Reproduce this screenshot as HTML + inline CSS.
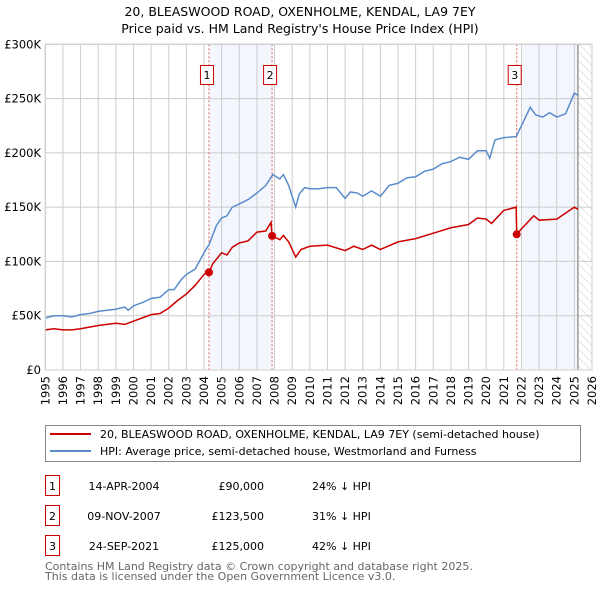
<!DOCTYPE html>
<html><head><meta charset="utf-8"><style>
body{margin:0;background:#fff}
svg{display:block;font-family:"DejaVu Sans","Liberation Sans",sans-serif}
</style></head><body>
<svg id="chart" width="600" height="590" viewBox="0 0 600 590">
<defs><pattern id="hatch" width="6" height="6" patternUnits="userSpaceOnUse" patternTransform="rotate(-45)"><line x1="0" y1="0" x2="0" y2="6" stroke="#ccc" stroke-width="1"/></pattern></defs>
<text x="300" y="16" text-anchor="middle" font-size="12.5">20, BLEASWOOD ROAD, OXENHOLME, KENDAL, LA9 7EY</text>
<text x="300" y="33" text-anchor="middle" font-size="12.5">Price paid vs. HM Land Registry's House Price Index (HPI)</text>
<g id="plot"></g>
<g>
<rect x="45.5" y="425.5" width="535" height="36" fill="#fff" stroke="#888"/>
<line x1="50" y1="434" x2="91" y2="434" stroke="#cc0000" stroke-width="2"/>
<text x="100" y="438" font-size="11">20, BLEASWOOD ROAD, OXENHOLME, KENDAL, LA9 7EY (semi-detached house)</text>
<line x1="50" y1="451" x2="91" y2="451" stroke="#5b8ccc" stroke-width="2"/>
<text x="100" y="455" font-size="11">HPI: Average price, semi-detached house, Westmorland and Furness</text>
</g>
<g font-size="11">
<g><rect x="45.5" y="475.5" width="14" height="20" fill="#fff" stroke="#cc0000"/><text x="52.5" y="490" text-anchor="middle">1</text><text x="124" y="490" text-anchor="middle">14-APR-2004</text><text x="264" y="490" text-anchor="end">£90,000</text><text x="312" y="490">24% ↓ HPI</text></g>
<g><rect x="45.5" y="505.5" width="14" height="20" fill="#fff" stroke="#cc0000"/><text x="52.5" y="520" text-anchor="middle">2</text><text x="124" y="520" text-anchor="middle">09-NOV-2007</text><text x="264" y="520" text-anchor="end">£123,500</text><text x="312" y="520">31% ↓ HPI</text></g>
<g><rect x="45.5" y="535.5" width="14" height="20" fill="#fff" stroke="#cc0000"/><text x="52.5" y="550" text-anchor="middle">3</text><text x="124" y="550" text-anchor="middle">24-SEP-2021</text><text x="264" y="550" text-anchor="end">£125,000</text><text x="312" y="550">42% ↓ HPI</text></g>
</g>
<text x="45" y="570" font-size="11" fill="#666">Contains HM Land Registry data © Crown copyright and database right 2025.</text>
<text x="45" y="580" font-size="11" fill="#666">This data is licensed under the Open Government Licence v3.0.</text>
</svg>
<script>
const yTicks=[0,50000,100000,150000,200000,250000,300000];
const yTickLabels=["£0","£50K","£100K","£150K","£200K","£250K","£300K"];
const years=[1995,1996,1997,1998,1999,2000,2001,2002,2003,2004,2005,2006,2007,2008,2009,2010,2011,2012,2013,2014,2015,2016,2017,2018,2019,2020,2021,2022,2023,2024,2025,2026];
const hpiT=[1995,1995.5,1996,1996.5,1997,1997.5,1998,1998.5,1999,1999.5,1999.7,2000,2000.3,2000.5,2001,2001.5,2002,2002.3,2002.7,2003,2003.5,2004,2004.3,2004.7,2005,2005.3,2005.6,2006,2006.5,2007,2007.5,2007.9,2008.3,2008.5,2008.8,2009.2,2009.4,2009.7,2010,2010.5,2011,2011.5,2012,2012.3,2012.7,2013,2013.5,2014,2014.5,2015,2015.5,2016,2016.5,2017,2017.5,2018,2018.5,2019,2019.5,2020,2020.2,2020.5,2021,2021.7,2022,2022.5,2022.8,2023.2,2023.6,2024,2024.5,2025,2025.2];
const hpiV=[48,50,50,49,51,52,54,55,56,58,55,59,61,62,66,67,74,74,83,88,93,108,116,133,140,142,150,153,157,163,170,180,176,180,170,150,162,168,167,167,168,168,158,164,163,160,165,160,170,172,177,178,183,185,190,192,196,194,202,202,195,212,214,215,225,242,235,233,237,233,236,255,253];
const priceT=[1995,1995.5,1996,1996.5,1997,1998,1999,1999.5,2000,2000.5,2001,2001.5,2002,2002.5,2003,2003.5,2004,2004.28,2004.5,2005,2005.3,2005.6,2006,2006.5,2007,2007.5,2007.8,2007.86,2008.3,2008.5,2008.8,2009.2,2009.5,2010,2011,2012,2012.5,2013,2013.5,2014,2015,2016,2017,2018,2019,2019.5,2020,2020.3,2021,2021.7,2021.73,2022,2022.7,2023,2024,2025,2025.2];
const priceV=[37,38,37,37,38,41,43,42,45,48,51,52,57,64,70,78,88,90,98,108,106,113,117,119,127,128,136,123.5,120,124,118,104,111,114,115,110,114,111,115,111,118,121,126,131,134,140,139,135,147,150,125,130,142,138,139,150,148];
const saleT=[2004.28,2007.86,2021.73];
const saleV=[90,123.5,125];
const saleLabels=["1","2","3"];
const shadeStart=[2004.28,2022.05];
const shadeEnd=[2007.86,2025.2];
const dataEnd=2025.2;

const X0=45.3,X1=592,Y0=370,Y1=44.3;
const xs=t=>X0+(t-1995)/(2026-1995)*(X1-X0);
const ys=v=>Y0-v/300000*(Y0-Y1);
const NS="http://www.w3.org/2000/svg";
const g=document.getElementById('plot');
function mk(tag,attrs,parent){const e=document.createElementNS(NS,tag);for(const k in attrs)e.setAttribute(k,attrs[k]);(parent||g).appendChild(e);return e;}

const bg=mk('rect',{x:X0,y:Y1,width:X1-X0,height:Y0-Y1,fill:'#fff'});


for(let i=0;i<shadeStart.length;i++){
  const r=mk('rect',{x:xs(shadeStart[i]),y:Y1,width:xs(shadeEnd[i])-xs(shadeStart[i]),height:Y0-Y1,fill:'#f3f6fd'});
  
  
}
const h=mk('rect',{x:xs(dataEnd),y:Y1,width:X1-xs(dataEnd),height:Y0-Y1,fill:'url(#hatch)'});


years.forEach(y=>{
  const l=mk('line',{x1:xs(y),x2:xs(y),y1:Y1,y2:Y0,stroke:'#ccc','stroke-width':1});
  
  
  const t=mk('text',{x:0,y:0,'font-size':11.5,'text-anchor':'end',transform:`translate(${xs(y)+4},${Y0+6}) rotate(-90)`});
  t.textContent=y;
  
  
});
yTicks.forEach((v,i)=>{
  const l=mk('line',{x1:X0,x2:X1,y1:ys(v),y2:ys(v),stroke:'#ccc','stroke-width':1});
  
  
  const t=mk('text',{x:41,y:ys(v)+4,'font-size':11.5,'text-anchor':'end'});
  t.textContent=yTickLabels[i];
  
  
});
const el=mk('line',{x1:xs(dataEnd),x2:xs(dataEnd),y1:Y1,y2:Y0,stroke:'#999','stroke-width':1.5});


saleT.forEach((t,i)=>{
  const l=mk('line',{x1:xs(t),x2:xs(t),y1:Y1,y2:Y0,stroke:'#e06060','stroke-width':1,'stroke-dasharray':'2,2'});
  
  
  const b=mk('rect',{x:xs(t)-8.5,y:65.5,width:13,height:19,fill:'#fff',stroke:'#cc0000'});
  
  
  const tx=mk('text',{x:xs(t)-2,y:79,'font-size':11,'text-anchor':'middle'});
  tx.textContent=saleLabels[i];
  
  
});
const hp=mk('polyline',{points:hpiT.map((t,i)=>xs(t)+','+ys(hpiV[i]*1000)).join(' '),fill:'none',stroke:'#5b8ccc','stroke-width':1.5});


const pp=mk('polyline',{points:priceT.map((t,i)=>xs(t)+','+ys(priceV[i]*1000)).join(' '),fill:'none',stroke:'#cc0000','stroke-width':1.5});


saleT.forEach((t,i)=>{
  const c=mk('circle',{cx:xs(t),cy:ys(saleV[i]*1000),r:4,fill:'#cc0000'});
  
  
});
const fr=mk('rect',{x:X0,y:Y1,width:X1-X0,height:Y0-Y1,fill:'none',stroke:'#ccc'});


</script>
</body></html>
